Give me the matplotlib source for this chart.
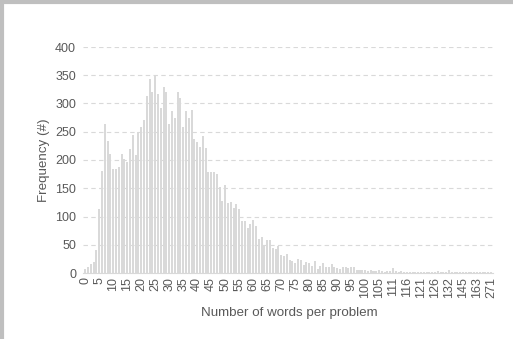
import matplotlib
matplotlib.use("Agg")
import matplotlib.pyplot as plt
import numpy as np
from matplotlib.lines import Line2D

# word counts present in the data (x categories)
words = list(range(0, 106)) + [106, 107, 108, 110] + list(range(111, 127)) \
    + [127, 128, 129, 131, 132, 133, 134, 136, 140, 145,
       147, 150, 152, 158, 163, 170, 180, 198, 220, 271]

# number of problems for each word count
freq = [7, 11, 16, 20, 40, 114, 181, 263, 234, 210,
        184, 184, 187, 210, 202, 196, 220, 245, 208, 250,
        259, 271, 314, 343, 321, 350, 316, 292, 330, 321,
        263, 286, 274, 320, 309, 259, 287, 274, 288, 238,
        232, 223, 243, 221, 179, 178, 178, 175, 152, 128,
        155, 124, 126, 115, 122, 113, 92, 92, 79, 86,
        94, 84, 60, 63, 50, 59, 59, 44, 43, 47,
        31, 30, 33, 23, 22, 17, 25, 23, 14, 20,
        18, 13, 21, 7, 13, 18, 10, 11, 16, 10,
        8, 7, 10, 10, 8, 11, 11, 5, 6, 6,
        5, 4, 5, 4, 3, 5, 3, 2, 4, 3,
        8, 3, 2, 3, 2, 2, 1, 2, 1, 2,
        1, 1, 2, 1, 1, 1, 4, 1, 1, 1,
        5, 1, 1, 1, 1, 2, 1, 1, 1, 1,
        1, 1, 1, 1, 1, 1]

W, H = 513, 339
fig = plt.figure(figsize=(W / 100, H / 100), dpi=100)
ax = fig.add_axes([83 / W, 1 - 273 / H, (493 - 83) / W, (273 - 47) / H])

x = np.arange(len(words))
ax.bar(x, freq, width=0.72, color="#d9d9d9", zorder=2)

ax.set_ylim(0, 400)
ax.set_xlim(-0.8, len(words) - 0.3)
ax.set_yticks(range(0, 401, 50))
ax.yaxis.grid(True, linestyle=(0, (4, 3)), color="#d9d9d9", linewidth=0.8, zorder=0)

tick_idx = x[::5]
ax.set_xticks(tick_idx)
ax.set_xticklabels([str(words[i]) for i in tick_idx], rotation=90)

for s in ["top", "right", "left"]:
    ax.spines[s].set_visible(False)
ax.spines["bottom"].set_color("#d9d9d9")
ax.tick_params(axis="both", length=0, labelsize=9, labelcolor="#595959")
ax.tick_params(axis="y", pad=5)
ax.tick_params(axis="x", pad=3)
for t in ax.get_xticklabels() + ax.get_yticklabels():
    t.set_family("Liberation Sans")

fig.text(44 / W, 1 - 160 / H, "Frequency (#)", rotation=90, ha="center", va="center",
         fontsize=9.6, color="#595959", family="Liberation Sans")
fig.text(289 / W, 1 - 313 / H, "Number of words per problem", ha="center", va="center",
         fontsize=9.6, color="#595959", family="Liberation Sans")

# frame of the screenshot (top and left edges)
fig.add_artist(Line2D([0, 1], [1 - 2 / H, 1 - 2 / H], transform=fig.transFigure,
                      color="#bfbfbf", linewidth=3))
fig.add_artist(Line2D([2 / W, 2 / W], [0, 1], transform=fig.transFigure,
                      color="#bfbfbf", linewidth=3))

fig.savefig("out.png", dpi=100)
